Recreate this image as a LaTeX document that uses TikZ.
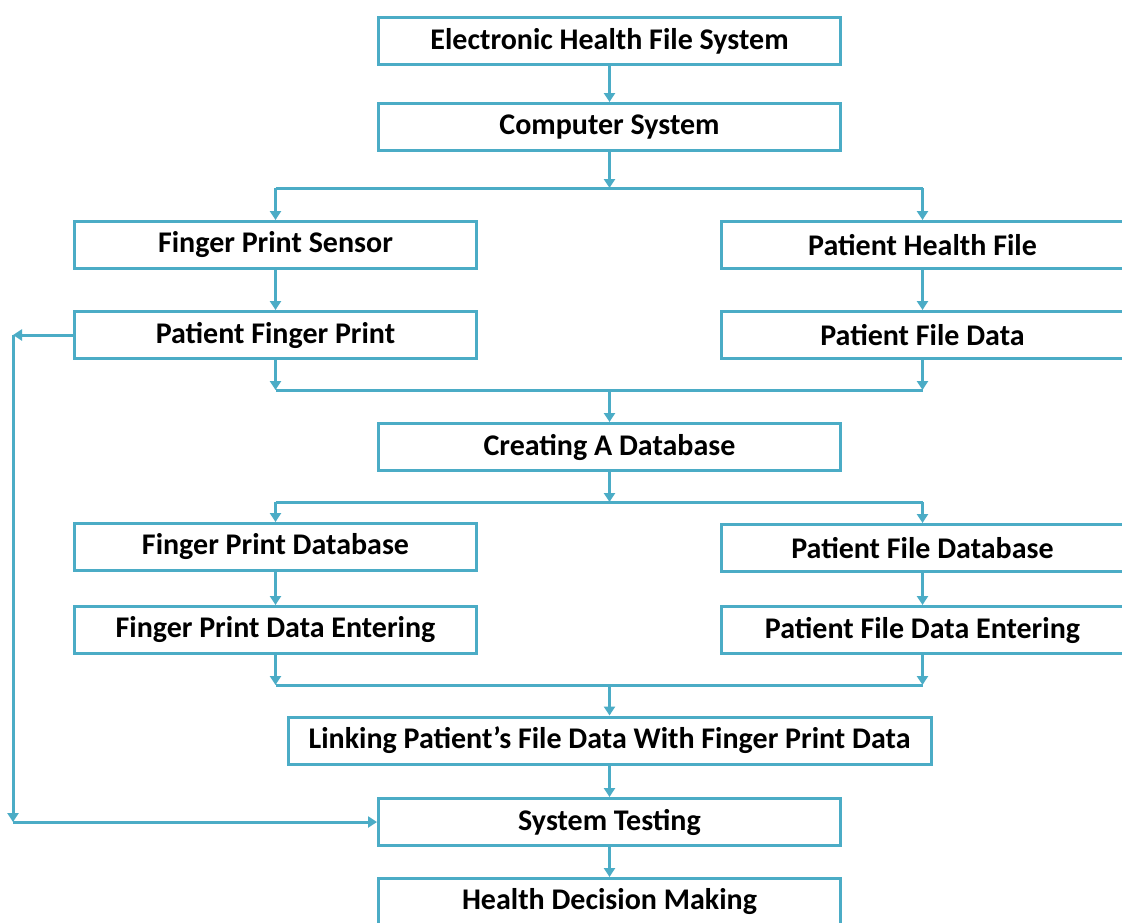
\documentclass[tikz,border=0pt]{standalone}
\usepackage{fontspec}
\setmainfont{Carlito}
\usetikzlibrary{arrows.meta}
\definecolor{cb}{HTML}{4BACC6}
\begin{document}
\begin{tikzpicture}[x=1pt,y=-1pt,
  box/.style={draw=cb, line width=3pt, minimum width=462pt, minimum height=47pt,
    inner sep=0pt, font=\bfseries\fontsize{30}{34}\selectfont, text=black},
  side/.style={box, minimum width=402pt},
  conn/.style={draw=cb, line width=3pt, -{Triangle[width=11pt,length=9pt]}},
  bar/.style={draw=cb, line width=3pt}]
\useasboundingbox (0,0) rectangle (1122,922);
\fill[white] (0,0) rectangle (1122,922);

% main column
\node[box] (b1) at (609.5,41) {Electronic Health File System};
\node[box] (b2) at (609.5,127) {Computer System};
\node[box] (db) at (609.5,447) {Creating A Database};
\node[box, minimum width=643pt] (link) at (609.5,740.5) {Linking Patient’s File Data With Finger Print Data};
\node[box] (test) at (609.5,822) {System Testing};
\node[box] (hdm) at (609.5,902) {Health Decision Making};

% left column
\node[side] (fs)  at (275.5,245) {Finger Print Sensor};
\node[side] (pfp) at (275.5,335) {Patient Finger Print};
\node[side] (fpd) at (275.5,547) {Finger Print Database};
\node[side] (fpe) at (275.5,630) {Finger Print Data Entering};

% right column
\node[side] (phf)  at (922.5,245) {Patient Health File};
\node[side] (pfd)  at (922.5,335) {Patient File Data};
\node[side] (pfdb) at (922.5,548) {Patient File Database};
\node[side] (pfde) at (922.5,630) {Patient File Data Entering};

% junction points
\coordinate (s1) at (609.5,188);
\coordinate (s1l) at (275.5,188);
\coordinate (s1r) at (922.5,188);
\coordinate (m1) at (609.5,390);
\coordinate (m1l) at (275.5,390);
\coordinate (m1r) at (922.5,390);
\coordinate (s2) at (609.5,502);
\coordinate (s2l) at (275.5,502);
\coordinate (s2r) at (922.5,502);
\coordinate (m2) at (609.5,685);
\coordinate (m2l) at (275.5,685);
\coordinate (m2r) at (922.5,685);
\coordinate (lp) at (13,335);
\coordinate (lq) at (13,822);

\draw[conn] (b1) -- (b2);
\draw[conn] (b2) -- (s1);
\draw[bar] (s1l) -- (s1r);
\draw[conn] (s1l) -- (fs);
\draw[conn] (s1r) -- (phf);
\draw[conn] (fs) -- (pfp);
\draw[conn] (phf) -- (pfd);
\draw[conn] (pfp) -- (m1l);
\draw[conn] (pfd) -- (m1r);
\draw[bar] (m1l) -- (m1r);
\draw[conn] (m1) -- (db);
\draw[conn] (db) -- (s2);
\draw[bar] (s2l) -- (s2r);
\draw[conn] (s2l) -- (fpd);
\draw[conn] (s2r) -- (pfdb);
\draw[conn] (fpd) -- (fpe);
\draw[conn] (pfdb) -- (pfde);
\draw[conn] (fpe) -- (m2l);
\draw[conn] (pfde) -- (m2r);
\draw[bar] (m2l) -- (m2r);
\draw[conn] (m2) -- (link);
\draw[conn] (link) -- (test);
\draw[conn] (test) -- (hdm);

% feedback loop from the finger print to testing
\draw[conn] (pfp.west) -- (lp);
\draw[conn] (lp) -- (lq);
\draw[conn] (lq) -- (test.west);
\end{tikzpicture}
\end{document}
